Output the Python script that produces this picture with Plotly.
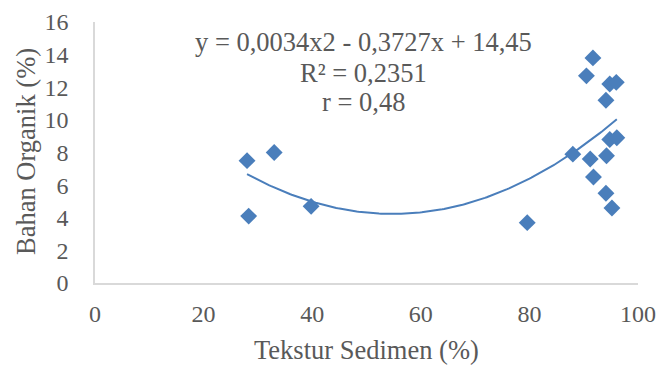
import numpy as np
import plotly.graph_objects as go

tekstur = [28.0, 28.3, 33.0, 39.8, 79.6, 88.0, 90.5, 91.2, 91.7, 91.8,
           94.1, 94.1, 94.2, 94.8, 94.8, 95.2, 96.0, 96.1]
organik = [7.5, 4.1, 8.0, 4.7, 3.7, 7.9, 12.7, 7.6, 13.8, 6.5,
           11.2, 5.5, 7.8, 12.2, 8.8, 4.6, 12.3, 8.9]
coef = [0.0034, -0.3727, 14.45]  # a, b, c of trendline
x_ticks = [0, 20, 40, 60, 80, 100]
y_ticks = [0, 2, 4, 6, 8, 10, 12, 14, 16]
label_lines = ["y = 0,0034x2 - 0,3727x + 14,45", "R² = 0,2351", "r = 0,48"]

blue = "#4A7EBB"
grey = "#595959"
font = "Liberation Serif"

xt = np.linspace(min(tekstur), max(tekstur), 200)
yt = coef[0] * xt**2 + coef[1] * xt + coef[2]

fig = go.Figure()
fig.add_trace(go.Scatter(x=xt, y=yt, mode="lines",
                         line=dict(color=blue, width=2), hoverinfo="skip"))
fig.add_trace(go.Scatter(x=tekstur, y=organik, mode="markers",
                         marker=dict(symbol="diamond", size=13, color=blue)))

# trendline label lines (pixel positions relative to plot area)
for txt, ypx in zip(label_lines, [42, 73, 102]):
    fig.add_annotation(x=(363 - 95) / 543, y=(283 - ypx) / 261,
                       xref="paper", yref="paper",
                       xanchor="center", yanchor="middle", showarrow=False,
                       text=txt, font=dict(family=font, size=26.5, color=grey))

# axis titles
fig.add_annotation(x=(366 - 95) / 543, y=-(350 - 283) / 261,
                   xref="paper", yref="paper", xanchor="center",
                   yanchor="middle", showarrow=False,
                   text="Tekstur Sedimen (%)",
                   font=dict(family=font, size=26.5, color=grey))
fig.add_annotation(x=-(95 - 26) / 543, y=(283 - 152) / 261,
                   xref="paper", yref="paper", xanchor="center",
                   yanchor="middle", showarrow=False, textangle=-90,
                   text="Bahan Organik (%)",
                   font=dict(family=font, size=26.5, color=grey))

fig.update_layout(
    width=659, height=367,
    margin=dict(l=95, r=21, t=22, b=84),
    paper_bgcolor="white", plot_bgcolor="white",
    showlegend=False,
    font=dict(family=font, size=24, color=grey),
    xaxis=dict(range=[0, 100], tickvals=x_ticks, showgrid=False,
               zeroline=False, showline=True, linecolor="#D9D9D9",
               linewidth=1.5, ticks="", ticklabelstandoff=8,
               automargin=False),
    yaxis=dict(range=[0, 16], tickvals=y_ticks, showgrid=False,
               zeroline=False, showline=True, linecolor="#D9D9D9",
               linewidth=1.5, ticks="", ticklabelstandoff=20,
               automargin=False),
)

fig.write_html("out.html", config={"displayModeBar": False},
               post_script="document.body.style.margin='0';")
